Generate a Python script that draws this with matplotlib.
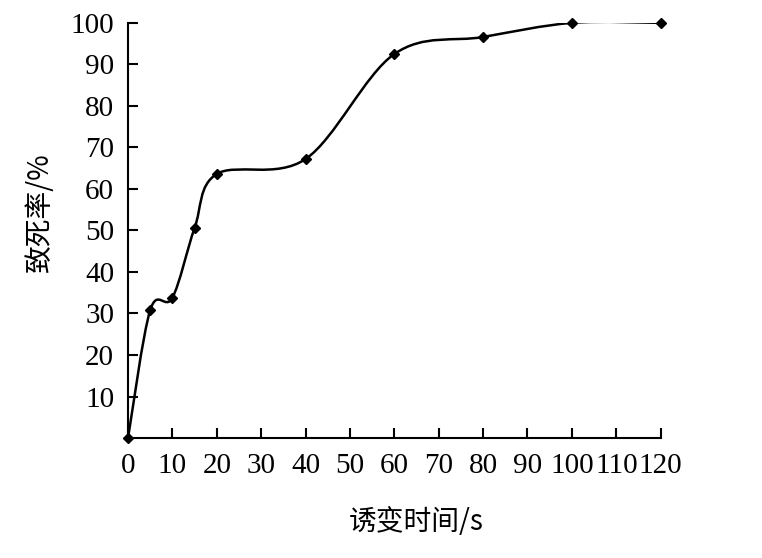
"""Lethality curve vs. mutagenesis time (smoothed line with diamond markers)."""

import matplotlib
matplotlib.use("Agg")
import matplotlib.pyplot as plt
from matplotlib.path import Path
from matplotlib.patches import PathPatch
import numpy as np

# data
time_s = [0, 5, 10, 15, 20, 40, 60, 80, 100, 120]
lethality = [0, 30.8, 33.8, 50.6, 63.6, 67.2, 92.5, 96.6, 100, 100]

x_ticks = list(range(0, 121, 10))
y_ticks = list(range(10, 101, 10))

plt.rcParams["font.family"] = ["Liberation Serif", "DejaVu Serif"]
cjk = ["Noto Sans CJK SC", "DejaVu Sans"]


def smooth_path(xs, ys):
    """Excel-style smoothed line: cubic Bezier through every point."""
    pts = np.column_stack([xs, ys]).astype(float)
    n = len(pts)
    verts = [pts[0]]
    codes = [Path.MOVETO]
    for i in range(n - 1):
        p0 = pts[i - 1] if i > 0 else pts[i]
        p1 = pts[i]
        p2 = pts[i + 1]
        p3 = pts[i + 2] if i + 2 < n else pts[i + 1]
        c1 = p1 + (p2 - p0) / 6.0
        c2 = p2 - (p3 - p1) / 6.0
        verts += [c1, c2, p2]
        codes += [Path.CURVE4] * 3
    return Path(verts, codes)


fig = plt.figure(figsize=(7.62, 5.58), dpi=100)
ax = fig.add_axes([0.168, 0.215, 0.699, 0.744])

ax.add_patch(PathPatch(smooth_path(time_s, lethality), facecolor="none",
                       edgecolor="black", lw=1.8, zorder=2))
ax.plot(time_s, lethality, linestyle="none", marker="D", markersize=5,
        color="black", zorder=3, clip_on=False)

ax.set_xlim(0, 120)
ax.set_ylim(0, 100)
ax.set_xticks(x_ticks)
ax.set_yticks(y_ticks)
ax.tick_params(direction="in", length=7, width=1.5, labelsize=21,
               colors="black")
ax.tick_params(axis="x", pad=11)
ax.tick_params(axis="y", pad=10)
for side in ("top", "right"):
    ax.spines[side].set_visible(False)
for side in ("left", "bottom"):
    ax.spines[side].set_linewidth(1.5)

fig.text(416 / 762, 1 - 522 / 558, "诱变时间/s", family=cjk, fontsize=20,
         ha="center", va="center")
fig.text(40 / 762, 1 - 212 / 558, "致死率/%", family=cjk, fontsize=20,
         rotation=90, ha="center", va="center")

fig.savefig("out.png", dpi=100)
